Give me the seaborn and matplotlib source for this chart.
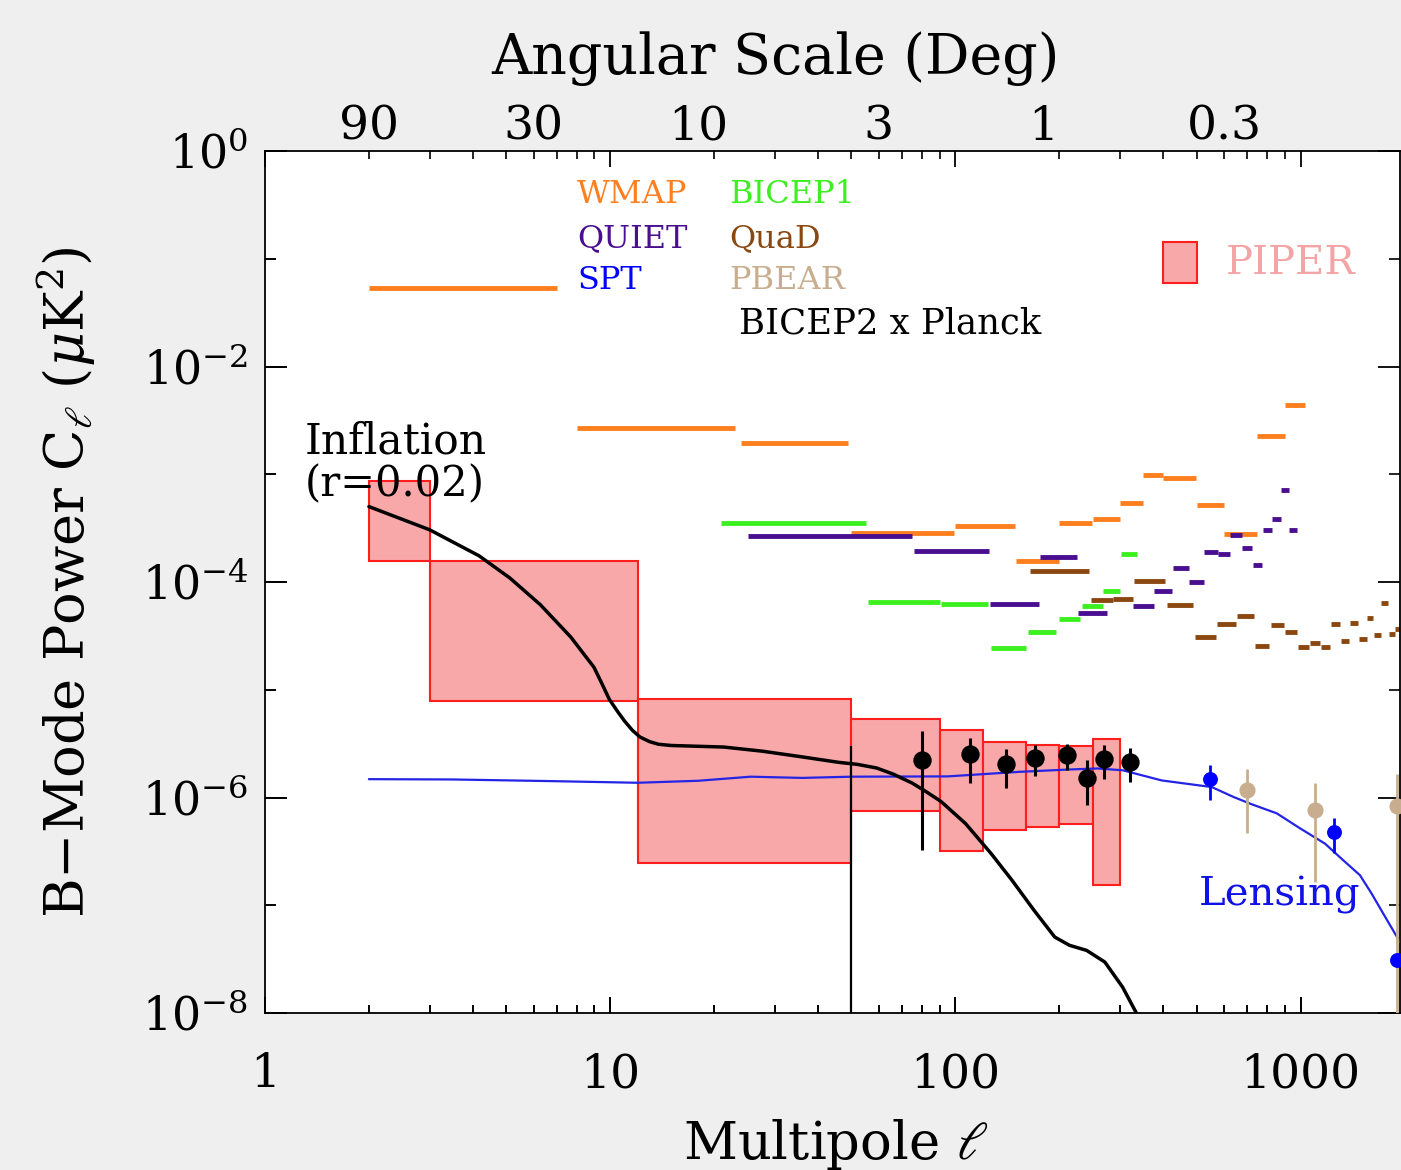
import numpy as np
import pandas as pd
import matplotlib
matplotlib.use("Agg")
import matplotlib.pyplot as plt
import seaborn as sns
from matplotlib.patches import Rectangle
from matplotlib.ticker import FixedLocator, NullFormatter, FixedFormatter

# ---------------- data ----------------
# PIPER forecast boxes (multipole bin edges, Cl range)
piper_lo = [2, 3, 12, 50, 90, 120, 160, 200, 250]
piper_hi = [3, 12, 50, 90, 120, 160, 200, 250, 300]
piper_top = [8.6e-4, 1.56e-4, 8.2e-6, 5.4e-6, 4.2e-6, 3.26e-6, 3.1e-6, 3.0e-6, 3.5e-6]
piper_bot = [1.56e-4, 7.8e-6, 2.45e-7, 7.5e-7, 3.2e-7, 4.96e-7, 5.3e-7, 5.7e-7, 1.53e-7]

# Upper limits (bin low, bin high, Cl)
wmap_lo = [2, 8, 24, 50, 100, 150, 200, 250, 300, 350, 400, 500, 600, 750, 900]
wmap_hi = [7, 23, 49, 99, 149, 199, 249, 299, 349, 399, 499, 599, 749, 899, 1030]
wmap_cl = [5.4e-2, 2.7e-3, 1.97e-3, 2.82e-4, 3.32e-4, 1.57e-4, 3.54e-4, 3.88e-4,
           5.39e-4, 9.8e-4, 9.2e-4, 5.13e-4, 2.8e-4, 2.26e-3, 4.35e-3]

bicep1_lo = [21, 56, 91, 127, 162, 199, 232, 267, 302]
bicep1_hi = [55, 90, 124, 160, 195, 230, 267, 300, 335]
bicep1_cl = [3.5e-4, 6.54e-5, 6.22e-5, 2.44e-5, 3.42e-5, 4.52e-5, 6.05e-5, 8.26e-5, 1.80e-4]

quiet_lo = [25, 76, 126, 176, 226, 326, 376, 426, 476, 526, 576, 626, 676, 726, 776, 826, 876, 926]
quiet_hi = [75, 125, 175, 225, 275, 375, 425, 475, 525, 575, 625, 675, 725, 775, 825, 875, 925, 975]
quiet_cl = [2.66e-4, 1.96e-4, 6.31e-5, 1.69e-4, 5.17e-5, 6.05e-5, 8.17e-5, 1.35e-4, 9.96e-5,
            1.89e-4, 1.81e-4, 2.72e-4, 2.05e-4, 1.45e-4, 3.03e-4, 3.83e-4, 7.16e-4, 3.03e-4]

quad_lo = [165, 247, 287, 330, 410, 493, 573, 655, 738, 819, 901, 986, 1062, 1143,
           1225, 1306, 1387, 1473, 1553, 1636, 1711, 1804, 1883]
quad_hi = [244, 286, 326, 406, 489, 567, 649, 731, 812, 896, 975, 1055, 1137, 1217,
           1300, 1380, 1465, 1553, 1625, 1711, 1794, 1875, 1950]
quad_cl = [1.27e-4, 6.8e-5, 7.0e-5, 1.02e-4, 6.18e-5, 3.12e-5, 4.08e-5, 4.84e-5, 2.53e-5,
           3.97e-5, 3.40e-5, 2.50e-5, 2.74e-5, 2.50e-5, 4.06e-5, 2.86e-5, 4.17e-5, 2.96e-5,
           4.68e-5, 3.23e-5, 6.40e-5, 3.28e-5, 3.70e-5]

# Detections with error bars
bk_l = [80, 110, 140, 170, 210, 241, 270, 321]
bk_cl = [2.25e-6, 2.52e-6, 2.03e-6, 2.33e-6, 2.50e-6, 1.53e-6, 2.26e-6, 2.15e-6]
bk_hi = [4.15e-6, 3.57e-6, 2.79e-6, 3.10e-6, 3.17e-6, 2.21e-6, 3.05e-6, 2.88e-6]
bk_lo = [3.24e-7, 1.36e-6, 1.23e-6, 1.57e-6, 1.79e-6, 8.5e-7, 1.50e-6, 1.39e-6]

spt_l = [545, 1246, 1900]
spt_cl = [1.50e-6, 4.78e-7, 3.08e-8]
spt_hi = [1.99e-6, 6.5e-7, 3.08e-8]
spt_lo = [9.5e-7, 3.05e-7, 3.08e-8]

pbear_l = [700, 1100, 1900]
pbear_cl = [1.17e-6, 7.6e-7, 8.3e-7]
pbear_hi = [1.85e-6, 1.35e-6, 1.67e-6]
pbear_lo = [4.7e-7, 1.64e-7, 1e-9]

# Theory curves
inf_l = [2.0, 3.0, 4.17, 5.12, 6.28, 7.69, 8.97, 9.45, 9.94, 10.5, 11.0, 11.6, 12.2, 13.0,
         13.8, 15.0, 16.6, 21.3, 27.6, 35.7, 45.9, 52.0, 59.1, 66.0, 75.0, 82.0, 90.8, 107,
         127, 146, 169, 194, 214, 240, 271, 305, 335, 360]
inf_cl = [5.01e-4, 3.05e-4, 1.75e-4, 1.09e-4, 6.14e-5, 3.08e-5, 1.62e-5, 1.15e-5, 8.16e-6,
          6.3e-6, 5.13e-6, 4.2e-6, 3.64e-6, 3.3e-6, 3.12e-6, 3.04e-6, 3.01e-6, 2.94e-6,
          2.69e-6, 2.39e-6, 2.12e-6, 2.03e-6, 1.88e-6, 1.65e-6, 1.36e-6, 1.14e-6, 9.2e-7,
          5.73e-7, 3.01e-7, 1.70e-7, 8.97e-8, 5.07e-8, 4.25e-8, 3.81e-8, 2.97e-8, 1.74e-8,
          9.9e-9, 6e-9]

lens_l = [2, 3.5, 6.7, 12, 18, 25.5, 36, 50, 95, 153, 214, 258, 305, 396, 504, 553, 640,
          722, 853, 996, 1101, 1177, 1330, 1486, 1607, 1736, 1941]
lens_cl = [1.48e-6, 1.47e-6, 1.42e-6, 1.37e-6, 1.43e-6, 1.56e-6, 1.52e-6, 1.56e-6, 1.57e-6,
           1.73e-6, 1.82e-6, 1.86e-6, 1.79e-6, 1.44e-6, 1.30e-6, 1.25e-6, 1.01e-6, 8.65e-7,
           7.13e-7, 5.18e-7, 4.25e-7, 3.73e-7, 2.61e-7, 1.90e-7, 1.28e-7, 8.36e-8, 4.55e-8]

vline_l = 50
vline_top = 3.0e-6

top_deg = [90, 30, 10, 3, 1, 0.3]
top_lab = ["90", "30", "10", "3", "1", "0.3"]
x_ticks = [1, 10, 100, 1000]
x_labels = ["1", "10", "100", "1000"]
x_minor = [m * 10 ** d for d in range(0, 4) for m in range(2, 10)]
y_major = [1e0, 1e-2, 1e-4, 1e-6, 1e-8]
y_minor = [1e-1, 1e-3, 1e-5, 1e-7]
y_labels = [r"$10^{0}$", r"$10^{-2}$", r"$10^{-4}$", r"$10^{-6}$", r"$10^{-8}$"]

# ---------------- style ----------------
sns.set_theme(style="ticks", rc={
    'xtick.bottom': True, 'xtick.top': True, 'ytick.left': True, 'ytick.right': True,
    'xtick.direction': 'in', 'ytick.direction': 'in',
    'xtick.color': 'black', 'ytick.color': 'black',
    'axes.edgecolor': 'black', 'axes.linewidth': 1.3,
})
plt.rcParams['font.family'] = ['DejaVu Serif', 'DejaVu Sans']
plt.rcParams['mathtext.fontset'] = 'dejavuserif'

C_WMAP = '#ff7f1e'
C_BICEP1 = '#3cf020'
C_QUIET = '#4a0f90'
C_QUAD = '#8a4810'
C_PBEAR = '#c8ae8e'
C_SPT = '#0000ff'
C_LENS = '#2424e6'
C_PIPER_FILL = '#f8a8a8'
C_PIPER_EDGE = '#ff1e1e'

W, H = 1401, 1170
L, R, T, B = 265, 1400, 151, 1013
X_MAX = 1941
rect = [L / W, 1 - B / H, (R - L) / W, (B - T) / H]
fig = plt.figure(figsize=(W / 100, H / 100), dpi=100, facecolor='#efefef')
ax = fig.add_axes(rect)
ax.set_facecolor('white')
ax.set_xscale('log')
ax.set_yscale('log')
ax.set_xlim(1, X_MAX)
ax.set_ylim(1e-8, 1)

# PIPER boxes
p_lo = np.array(piper_lo, float); p_hi = np.array(piper_hi, float)
p_top = np.array(piper_top); p_bot = np.array(piper_bot)
ax.bar(p_lo, p_top - p_bot, width=p_hi - p_lo, bottom=p_bot, align='edge',
       color=C_PIPER_FILL, edgecolor=C_PIPER_EDGE, linewidth=1.5, zorder=1)

# upper limits
lw_ul = 3.5
for lo, hi, cl, c in [(wmap_lo, wmap_hi, wmap_cl, C_WMAP),
                      (quiet_lo, quiet_hi, quiet_cl, C_QUIET),
                      (bicep1_lo, bicep1_hi, bicep1_cl, C_BICEP1),
                      (quad_lo, quad_hi, quad_cl, C_QUAD)]:
    ax.hlines(cl, lo, hi, colors=c, linewidth=lw_ul, capstyle='butt', zorder=2)

# theory curves
lens_df = pd.DataFrame({'l': lens_l, 'cl': lens_cl})
inf_df = pd.DataFrame({'l': inf_l, 'cl': inf_cl})
sns.lineplot(data=lens_df, x='l', y='cl', color=C_LENS, linewidth=1.6, ax=ax,
             estimator=None, zorder=3)
sns.lineplot(data=inf_df, x='l', y='cl', color='black', linewidth=2.5, ax=ax,
             estimator=None, zorder=4)
ax.vlines(vline_l, 1e-9, vline_top, colors='black', linewidth=1.6, zorder=4)

# data points with error bars
ax.vlines(bk_l, bk_lo, bk_hi, colors='black', linewidth=2.2, zorder=5)
ax.vlines(spt_l, spt_lo, spt_hi, colors=C_SPT, linewidth=2.0, zorder=5)
ax.vlines(pbear_l, pbear_lo, pbear_hi, colors=C_PBEAR, linewidth=2.0, zorder=5)
sns.scatterplot(x=bk_l, y=bk_cl, color='black', s=175, linewidth=0, ax=ax, zorder=6)
sns.scatterplot(x=spt_l, y=spt_cl, color=C_SPT, s=115, linewidth=0, ax=ax, zorder=6)
sns.scatterplot(x=pbear_l, y=pbear_cl, color=C_PBEAR, s=135, linewidth=0, ax=ax, zorder=6)

# ---------------- axes / labels ----------------
for sp in ax.spines.values():
    sp.set_color('black')
    sp.set_linewidth(1.3)
    sp.set_visible(True)

ax.xaxis.set_major_locator(FixedLocator(x_ticks))
ax.xaxis.set_major_formatter(FixedFormatter(x_labels))
ax.xaxis.set_minor_locator(FixedLocator(x_minor))
ax.xaxis.set_minor_formatter(NullFormatter())
ax.yaxis.set_major_locator(FixedLocator(y_major))
ax.yaxis.set_major_formatter(FixedFormatter(y_labels))
ax.yaxis.set_minor_locator(FixedLocator(y_minor))
ax.yaxis.set_minor_formatter(NullFormatter())
ax.tick_params(which='both', direction='in', top=True, right=True, bottom=True,
               left=True, color='black', labelcolor='black')
ax.tick_params(axis='x', which='major', length=11.5, width=1.3, labelsize=34, pad=28)
ax.tick_params(axis='x', which='minor', length=5.8, width=1.2)
ax.tick_params(axis='y', which='major', length=16, width=1.3, labelsize=33, pad=12)
ax.tick_params(axis='y', which='minor', length=8, width=1.2)
ax.set_xlabel('')
ax.set_ylabel('')

# explicit inward tick strokes on the bottom and left edges (axes-fraction lengths)
xtr = ax.get_xaxis_transform()
ytr = ax.get_yaxis_transform()
xm_in = [v for v in x_minor if v <= X_MAX]
ax.vlines(x_ticks, 0, 16.0 / (B - T), colors='black', linewidth=1.3,
          transform=xtr, clip_on=False, zorder=8)
ax.vlines(xm_in, 0, 8.0 / (B - T), colors='black', linewidth=1.2,
          transform=xtr, clip_on=False, zorder=8)
ax.hlines(y_major, 0, 22.0 / (R - L), colors='black', linewidth=1.3,
          transform=ytr, clip_on=False, zorder=8)
ax.hlines(y_minor, 0, 11.0 / (R - L), colors='black', linewidth=1.2,
          transform=ytr, clip_on=False, zorder=8)
ax.set_xlim(1, X_MAX)
ax.set_ylim(1e-8, 1)

# top angular-scale labels
for deg, lab in zip(top_deg, top_lab):
    ax.text(180.0 / deg, (B - 140) / (B - T), lab, transform=xtr, ha='center',
            va='baseline', fontsize=34, color='black', clip_on=False)

fig.text(775 / W, 1 - 74 / H, 'Angular Scale (Deg)', ha='center', va='baseline',
         fontsize=40, color='black')
fig.text(836 / W, 1 - 1159 / H, r'Multipole $\ell$', ha='center', va='baseline',
         fontsize=38, color='black')
fig.text(66 / W, 1 - 582 / H, r'B$-$Mode Power C$_\ell$ ($\mu$K$^2$)', rotation=90,
         ha='center', va='center', fontsize=39, color='black')

# in-plot legend texts
def axx(px):
    return (px - L) / (R - L)

def axy(py):
    return (B - py) / (B - T)

leg = [("WMAP", 577, 203, C_WMAP, 23), ("BICEP1", 729, 203, C_BICEP1, 23),
       ("QUIET", 577, 247, C_QUIET, 23), ("QuaD", 729, 247, C_QUAD, 23),
       ("SPT", 577, 289, C_SPT, 23), ("PBEAR", 729, 289, C_PBEAR, 23),
       ("BICEP2 x Planck", 739, 333, 'black', 25.5)]
for txt, px, py, c, fs in leg:
    ax.text(axx(px), axy(py), txt, transform=ax.transAxes, ha='left', va='baseline',
            fontsize=fs, color=c)

ax.text(axx(305), axy(454), 'Inflation', transform=ax.transAxes, ha='left',
        va='baseline', fontsize=30.5, color='black', zorder=7)
ax.text(axx(305), axy(496), '(r=0.02)', transform=ax.transAxes, ha='left',
        va='baseline', fontsize=30, color='black', zorder=7)
ax.text(axx(1199), axy(905), 'Lensing', transform=ax.transAxes, ha='left',
        va='baseline', fontsize=29, color='#1010e8', zorder=7)

ax.add_patch(Rectangle((axx(1162.7), axy(282.7)), (1197.3 - 1162.7) / (R - L),
                       (282.7 - 242.3) / (B - T), transform=ax.transAxes,
                       facecolor=C_PIPER_FILL, edgecolor=C_PIPER_EDGE, linewidth=1.5,
                       zorder=7))
ax.text(axx(1226), axy(274), 'PIPER', transform=ax.transAxes, ha='left', va='baseline',
        fontsize=29, color='#f4a4a4', zorder=7)

fig.savefig('out.png', dpi=100, facecolor=fig.get_facecolor())
